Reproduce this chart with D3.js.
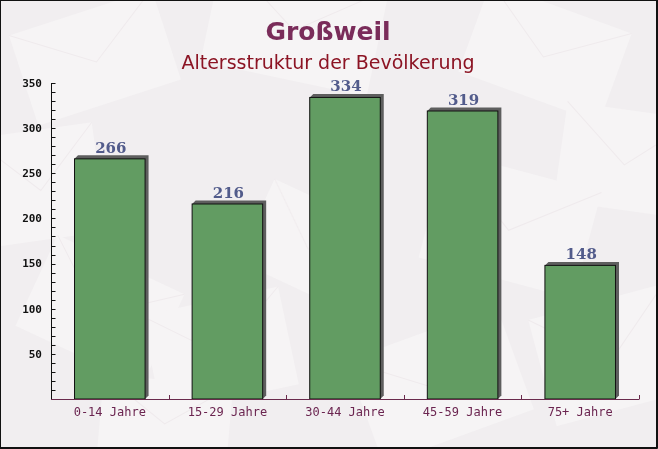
<!DOCTYPE html>
<html>
<head>
<meta charset="utf-8">
<script src="https://cdn.jsdelivr.net/npm/d3@7"></script>
<style>
html,body{margin:0;padding:0;background:#fff;}
svg{display:block;}
</style>
</head>
<body>
<svg id="chart" width="658" height="449"></svg>
<script>
const categories = ["0-14 Jahre", "15-29 Jahre", "30-44 Jahre", "45-59 Jahre", "75+ Jahre"];
const values = [266, 216, 334, 319, 148];
const yTickLabels = [50, 100, 150, 200, 250, 300, 350];
const yMinorTicks = d3.range(10, 351, 10);
const titleText = "Großweil";
const subtitleText = "Altersstruktur der Bevölkerung";

const W = 658, H = 449;
const plot = {left: 51, right: 639, top: 83, bottom: 399};

const svg = d3.select("#chart");

// background
svg.append("rect").attr("width", W).attr("height", H).attr("fill", "#f1eef0");
const deco = svg.append("g").attr("opacity", 0.5);
const envelopes = [
  [20, 10, 150, 95, -18], [210, -30, 170, 110, 12], [470, 5, 150, 95, 20],
  [560, 110, 130, 100, 8], [-20, 130, 120, 110, -8], [30, 260, 140, 100, 25],
  [150, 300, 140, 100, -12], [360, 330, 160, 110, -20], [430, 170, 160, 110, 15],
  [540, 300, 140, 110, -15], [250, 200, 120, 90, 25], [100, 380, 130, 80, 5]
];
envelopes.forEach(([x, y, w, h, r]) => {
  const g = deco.append("g").attr("transform", `translate(${x + w / 2},${y + h / 2}) rotate(${r})`);
  g.append("rect").attr("x", -w / 2).attr("y", -h / 2).attr("width", w).attr("height", h).attr("fill", "#fbfafa");
  g.append("path").attr("d", `M${-w/2},${-h/2} L0,${h*0.05} L${w/2},${-h/2}`).attr("fill", "none").attr("stroke", "#ece7ea").attr("stroke-width", 1);
});

// scales
const x = d3.scaleBand().domain(categories).range([plot.left, plot.right]).paddingInner(0.4).paddingOuter(0.2);
const y = d3.scaleLinear().domain([0, 350]).range([plot.bottom, plot.top]);

// bars: shadow then bar
const bars = svg.append("g");
bars.selectAll("path.shadow").data(values).join("path")
  .attr("class", "shadow")
  .attr("d", (d, i) => {
    const x0 = x(categories[i]), x1 = x0 + x.bandwidth(), yt = y(d), yb = y(0);
    const o = 3.5;
    return `M${x0},${yt} L${x0 + o},${yt - o} L${x1 + o},${yt - o} L${x1 + o},${yb - o} L${x1},${yb} Z`;
  })
  .attr("fill", "#5e5e5e");
bars.selectAll("rect.bar").data(values).join("rect")
  .attr("class", "bar")
  .attr("x", (d, i) => x(categories[i]))
  .attr("y", d => y(d))
  .attr("width", x.bandwidth())
  .attr("height", d => y(0) - y(d))
  .attr("fill", "#629c62")
  .attr("stroke", "#111")
  .attr("stroke-width", 1);

// value labels
svg.append("g").selectAll("text").data(values).join("text")
  .attr("x", (d, i) => x(categories[i]) + x.bandwidth() / 2 + 1)
  .attr("y", d => y(d) - 6)
  .attr("text-anchor", "middle")
  .attr("font-family", "'DejaVu Serif', serif")
  .attr("font-weight", "bold")
  .attr("font-size", 15)
  .attr("fill", "#525b8b")
  .text(d => d);

// y axis
const yAxis = svg.append("g").attr("transform", `translate(${plot.left},0)`);
yAxis.append("line").attr("x1", 0.5).attr("x2", 0.5).attr("y1", y(350)).attr("y2", y(0)).attr("stroke", "#111");
yAxis.selectAll("line.tick").data(yMinorTicks).join("line")
  .attr("class", "tick")
  .attr("x1", 0).attr("x2", 4.5)
  .attr("y1", d => Math.round(y(d)) + 0.5).attr("y2", d => Math.round(y(d)) + 0.5)
  .attr("stroke", "#111");
yAxis.selectAll("text").data(yTickLabels).join("text")
  .attr("x", -9)
  .attr("y", d => y(d))
  .attr("dy", "0.35em")
  .attr("text-anchor", "end")
  .attr("font-family", "'DejaVu Sans Mono', monospace")
  .attr("font-weight", "bold")
  .attr("font-size", 11)
  .attr("fill", "#111")
  .text(d => d);

// x axis
const xAxis = svg.append("g");
xAxis.append("line").attr("x1", plot.left).attr("x2", plot.right + 0.5).attr("y1", plot.bottom + 0.5).attr("y2", plot.bottom + 0.5).attr("stroke", "#6a2a4c");
xAxis.selectAll("line.tick").data(categories).join("line")
  .attr("class", "tick")
  .attr("x1", c => Math.round(x(c) + x.bandwidth() / 2 + x.step() / 2) + 0.5)
  .attr("x2", c => Math.round(x(c) + x.bandwidth() / 2 + x.step() / 2) + 0.5)
  .attr("y1", plot.bottom).attr("y2", plot.bottom - 4)
  .attr("stroke", "#6a2a4c");
xAxis.selectAll("text").data(categories).join("text")
  .attr("x", c => x(c) + x.bandwidth() / 2)
  .attr("y", 416)
  .attr("text-anchor", "middle")
  .attr("font-family", "'DejaVu Sans Mono', monospace")
  .attr("font-size", 12)
  .attr("fill", "#6b2550")
  .text(c => c);

// titles
svg.append("text").attr("x", 328).attr("y", 40).attr("text-anchor", "middle")
  .attr("font-family", "'DejaVu Sans', sans-serif").attr("font-weight", "bold").attr("font-size", 25)
  .attr("fill", "#7a2c5a").text(titleText);
svg.append("text").attr("x", 328).attr("y", 69).attr("text-anchor", "middle")
  .attr("font-family", "'DejaVu Sans', sans-serif").attr("font-size", 19)
  .attr("fill", "#8c1424").text(subtitleText);

// frame
svg.append("rect").attr("x", 0.5).attr("y", 0.5).attr("width", 656).attr("height", 447)
  .attr("fill", "none").attr("stroke", "#111").attr("stroke-width", 1);
svg.append("path").attr("d", `M${W - 0.5},0 V${H - 0.5} H0`).attr("fill", "none").attr("stroke", "#111");
</script>
</body>
</html>
